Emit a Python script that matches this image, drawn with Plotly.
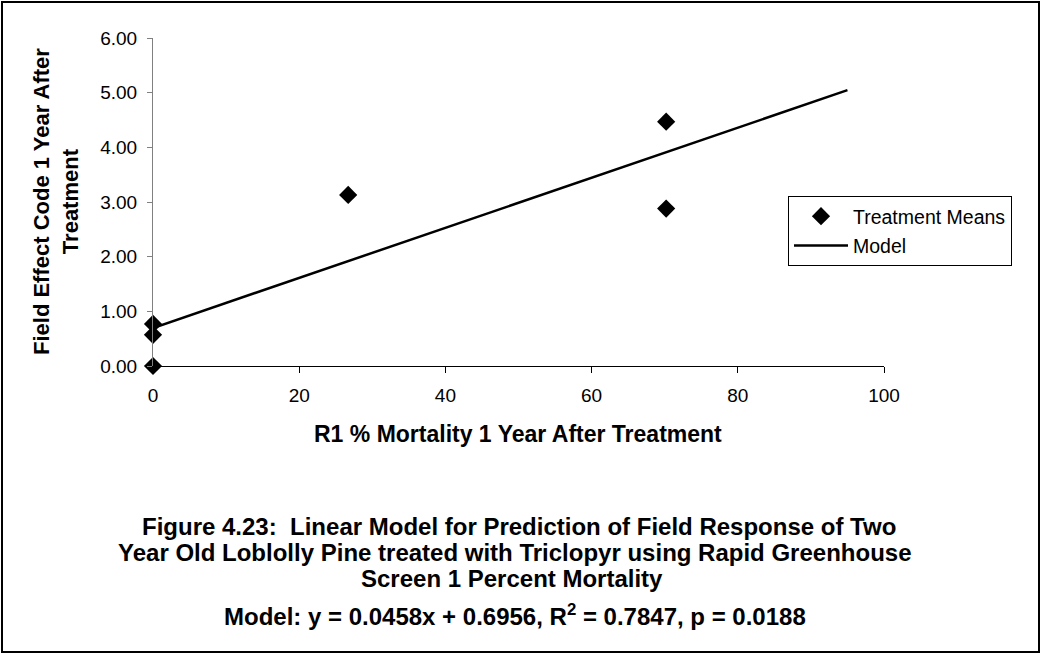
import plotly.graph_objects as go

# Treatment means: greenhouse mortality (%) vs. field effect code
mortality = [0, 0, 0, 26.7, 70.2, 70.2]
field_effect = [0.0, 0.57, 0.77, 3.13, 4.47, 2.88]

# Fitted linear model
slope = 0.0458
intercept = 0.6956
model_x = [0, 95]
model_y = [slope * x + intercept for x in model_x]

x_ticks = [0, 20, 40, 60, 80, 100]
y_ticks = [0, 1, 2, 3, 4, 5, 6]

caption_lines = [
    "Figure 4.23:  Linear Model for Prediction of Field Response of Two",
    "Year Old Loblolly Pine treated with Triclopyr using Rapid Greenhouse",
    "Screen 1 Percent Mortality",
    "Model: y = 0.0458x + 0.6956, R<sup>2</sup> = 0.7847, p = 0.0188",
]

W, H = 1041, 654
L, R, T, B = 153, 157, 38, 288
pw, ph = W - L - R, H - T - B


def px(xp):
    return (xp - L) / pw


def py(yp):
    return (H - B - yp) / ph


fig = go.Figure()
fig.add_trace(go.Scatter(
    x=mortality, y=field_effect, mode="markers", name="Treatment Means",
    marker=dict(symbol="diamond", size=14, color="black"),
    cliponaxis=False, legendgroup="means",
))
fig.add_trace(go.Scatter(
    x=model_x, y=model_y, mode="lines", name="Model",
    line=dict(color="black", width=2.5),
    cliponaxis=False, legendgroup="model",
))

font = "Arial, Liberation Sans, sans-serif"

fig.update_layout(
    width=W, height=H,
    margin=dict(l=L, r=R, t=T, b=B),
    paper_bgcolor="white", plot_bgcolor="white",
    font=dict(family=font, color="black", size=18),
    showlegend=True,
    legend=dict(
        x=px(788), y=py(196), xanchor="left", yanchor="top",
        bordercolor="black", borderwidth=1, bgcolor="white",
        font=dict(size=19.5), itemwidth=54, tracegroupgap=1,
    ),
    xaxis=dict(
        range=[0, 100], tickvals=x_ticks, showgrid=False, zeroline=False,
        showline=True, linecolor="black", linewidth=1,
        ticks="outside", ticklen=6, tickcolor="black",
        tickfont=dict(size=19), ticklabelstandoff=6,
    ),
    yaxis=dict(
        range=[0, 6], tickvals=y_ticks, tickformat=".2f", showgrid=False,
        zeroline=False, showline=True, linecolor="#808080", linewidth=1,
        ticks="outside", ticklen=5, tickcolor="#808080",
        tickfont=dict(size=19), ticklabelstandoff=6,
    ),
)

# Axis titles
fig.add_annotation(
    text="<b>R1 % Mortality 1 Year After Treatment</b>",
    xref="paper", yref="paper", x=px(518), y=py(434),
    showarrow=False, font=dict(size=23),
    xanchor="center", yanchor="middle",
)
fig.add_annotation(
    text="<b>Field Effect Code 1 Year After<br>Treatment</b>",
    xref="paper", yref="paper", x=px(56), y=py(201),
    showarrow=False, font=dict(size=22), textangle=-90,
    xanchor="center", yanchor="middle",
)

# Caption below the chart
caption_y = [526, 552, 578, 615]
caption_x = [519, 515, 512, 515]
for line, yy, xx in zip(caption_lines, caption_y, caption_x):
    fig.add_annotation(
        text=f"<b>{line}</b>", xref="paper", yref="paper",
        x=px(xx), y=py(yy), showarrow=False, font=dict(size=24),
        xanchor="center", yanchor="middle",
    )

# Outer frame
fig.add_shape(
    type="rect", xref="paper", yref="paper",
    x0=px(2), x1=px(1039), y0=py(652), y1=py(2),
    line=dict(color="black", width=2), fillcolor="rgba(0,0,0,0)",
)

fig.write_html("out.html")
